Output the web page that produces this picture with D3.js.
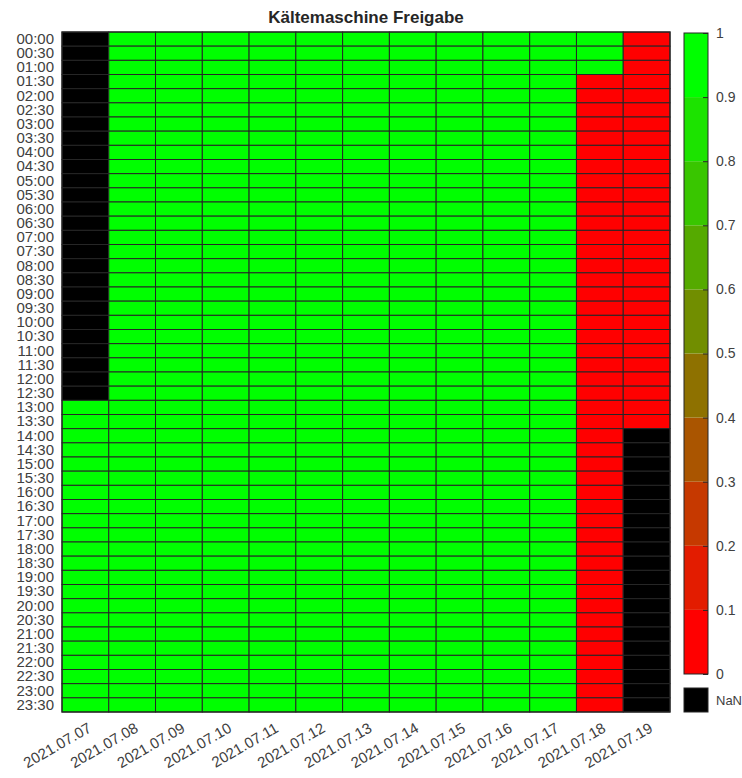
<!DOCTYPE html>
<html>
<head>
<meta charset="utf-8">
<script src="https://cdn.jsdelivr.net/npm/d3@7"></script>
<style>
  html, body { margin: 0; padding: 0; background: #fff; }
  svg { display: block; font-family: "Liberation Sans", Arial, Helvetica, sans-serif; }
</style>
</head>
<body>
<svg id="chart" width="742" height="778"></svg>
<script>
// Days (columns) and half-hour slots (rows)
const dates = ["2021.07.07", "2021.07.08", "2021.07.09", "2021.07.10", "2021.07.11",
  "2021.07.12", "2021.07.13", "2021.07.14", "2021.07.15", "2021.07.16",
  "2021.07.17", "2021.07.18", "2021.07.19"];

const times = ["00:00", "00:30", "01:00", "01:30", "02:00", "02:30", "03:00", "03:30",
  "04:00", "04:30", "05:00", "05:30", "06:00", "06:30", "07:00", "07:30",
  "08:00", "08:30", "09:00", "09:30", "10:00", "10:30", "11:00", "11:30",
  "12:00", "12:30", "13:00", "13:30", "14:00", "14:30", "15:00", "15:30",
  "16:00", "16:30", "17:00", "17:30", "18:00", "18:30", "19:00", "19:30",
  "20:00", "20:30", "21:00", "21:30", "22:00", "22:30", "23:00", "23:30"];

// Release state per day, run-length encoded: [value, number of half-hour slots]
// null = no data (NaN)
const releaseRuns = [
  [[null, 26], [1, 22]],
  [[1, 48]],
  [[1, 48]],
  [[1, 48]],
  [[1, 48]],
  [[1, 48]],
  [[1, 48]],
  [[1, 48]],
  [[1, 48]],
  [[1, 48]],
  [[1, 48]],
  [[1, 3], [0, 45]],
  [[0, 28], [null, 20]]
];

const colorTicks = [0, 0.1, 0.2, 0.3, 0.4, 0.5, 0.6, 0.7, 0.8, 0.9, 1];

// Expand the runs into one cell per (day, slot)
const cells = [];
releaseRuns.forEach((runs, di) => {
  let slot = 0;
  runs.forEach(([v, n]) => {
    for (let k = 0; k < n; k++) {
      cells.push({ date: dates[di], time: times[slot], value: v });
      slot++;
    }
  });
});

const svg = d3.select("#chart");
const margin = { left: 62, top: 32, right: 670, bottom: 712 };
const textColor = "#404040";
const gridColor = "#262626";

const x = d3.scaleBand().domain(dates).range([margin.left, margin.right]);
const y = d3.scaleBand().domain(times).range([margin.top, margin.bottom]);

// 10-step red → green colormap
const nBins = 10;
const binColors = d3.range(nBins).map(i => d3.interpolateRgb("#ff0000", "#00ff00")(i / (nBins - 1)));
const color = d3.scaleQuantize().domain([0, 1]).range(binColors);

// Cells
svg.append("g")
  .selectAll("rect")
  .data(cells)
  .join("rect")
  .attr("x", d => x(d.date))
  .attr("y", d => y(d.time))
  .attr("width", x.bandwidth())
  .attr("height", y.bandwidth())
  .attr("fill", d => d.value === null ? "#000000" : color(d.value))
  .attr("stroke", gridColor)
  .attr("stroke-width", 1);

// Outer frame
svg.append("rect")
  .attr("x", margin.left).attr("y", margin.top)
  .attr("width", margin.right - margin.left)
  .attr("height", margin.bottom - margin.top)
  .attr("fill", "none")
  .attr("stroke", gridColor)
  .attr("stroke-width", 1.2);

// Row labels
const yAxis = svg.append("g")
  .attr("transform", `translate(${margin.left},0)`)
  .call(d3.axisLeft(y).tickSize(0).tickPadding(8));
yAxis.select(".domain").remove();
yAxis.selectAll("text")
  .attr("fill", textColor)
  .style("font-size", "15px");

// Column labels, rotated
const xAxis = svg.append("g")
  .attr("transform", `translate(0,${margin.bottom})`)
  .call(d3.axisBottom(x).tickSize(0).tickPadding(0));
xAxis.select(".domain").remove();
xAxis.selectAll("text")
  .attr("fill", textColor)
  .style("font-size", "15px")
  .attr("text-anchor", "end")
  .attr("dy", 0)
  .attr("transform", "translate(7,19) rotate(-30)");

// Title
svg.append("text")
  .attr("x", (margin.left + margin.right) / 2)
  .attr("y", 23)
  .attr("text-anchor", "middle")
  .attr("font-weight", "bold")
  .attr("fill", "#262626")
  .style("font-size", "17px")
  .text("Kältemaschine Freigabe");

// Colorbar
const cb = { x: 684, w: 24, top: 33, bottom: 674 };
const cy = d3.scaleLinear().domain([0, 1]).range([cb.bottom, cb.top]);
const cbar = svg.append("g");
cbar.selectAll("rect.bin")
  .data(binColors)
  .join("rect")
  .attr("class", "bin")
  .attr("x", cb.x)
  .attr("y", (c, i) => cy((i + 1) / nBins))
  .attr("width", cb.w)
  .attr("height", (c, i) => cy(i / nBins) - cy((i + 1) / nBins))
  .attr("fill", c => c);
cbar.append("rect")
  .attr("x", cb.x).attr("y", cb.top)
  .attr("width", cb.w).attr("height", cb.bottom - cb.top)
  .attr("fill", "none").attr("stroke", gridColor).attr("stroke-width", 1);

const cAxis = cbar.append("g")
  .attr("transform", `translate(${cb.x + cb.w},0)`)
  .call(d3.axisRight(cy).tickValues(colorTicks).tickFormat(d3.format("~g")).tickSizeInner(-5).tickSizeOuter(0).tickPadding(8));
cAxis.select(".domain").remove();
cAxis.selectAll("line").attr("stroke", gridColor);
cAxis.selectAll("text")
  .attr("fill", textColor)
  .style("font-size", "14px");

// NaN swatch
svg.append("rect")
  .attr("x", cb.x).attr("y", 688)
  .attr("width", cb.w).attr("height", 24)
  .attr("fill", "#000").attr("stroke", gridColor);
svg.append("text")
  .attr("x", cb.x + cb.w + 8)
  .attr("y", 700)
  .attr("dy", "0.35em")
  .attr("fill", textColor)
  .style("font-size", "13px")
  .text("NaN");
</script>
</body>
</html>
